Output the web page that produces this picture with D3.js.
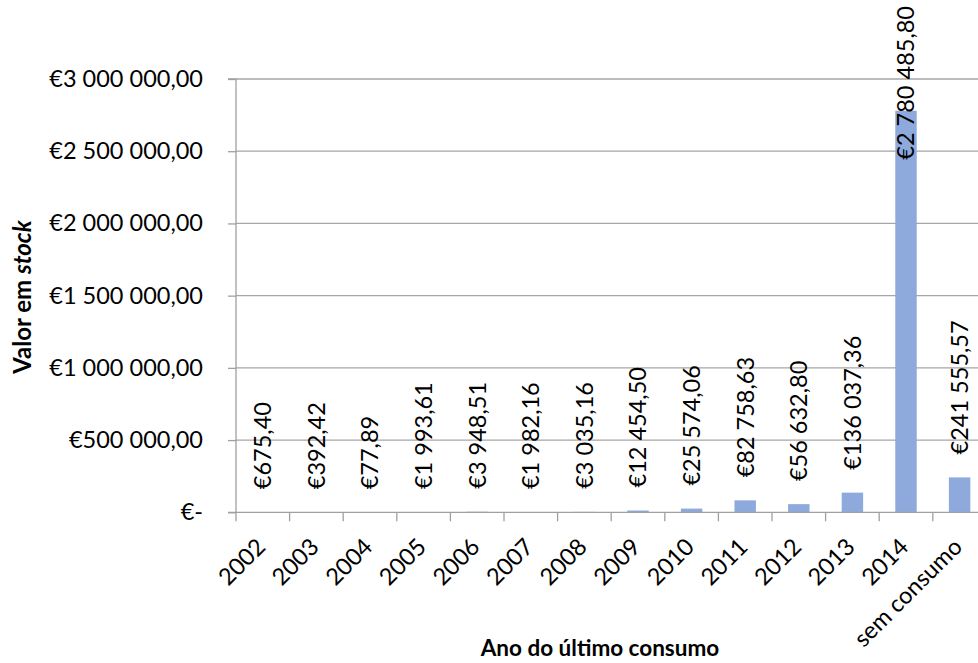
<!DOCTYPE html>
<html>
<head>
<meta charset="utf-8">
<script src="https://cdn.jsdelivr.net/npm/d3@7"></script>
<style>
  html, body { margin: 0; padding: 0; background: #fff; }
  svg { display: block; font-family: Lato, "Open Sans", sans-serif; }
</style>
</head>
<body>
<svg id="chart" width="978" height="663"></svg>
<script>
// Stock value by year of last consumption
const categories = ["2002", "2003", "2004", "2005", "2006", "2007", "2008",
                    "2009", "2010", "2011", "2012", "2013", "2014", "sem consumo"];
const values = [675.40, 392.42, 77.89, 1993.61, 3948.51, 1982.16, 3035.16,
                12454.50, 25574.06, 82758.63, 56632.80, 136037.36, 2780485.80, 241555.57];
const yTicks = [0, 500000, 1000000, 1500000, 2000000, 2500000, 3000000];

const svg = d3.select("#chart");
const margin = { left: 236, top: 79, bottom: 151 };
const plotW = 750.4, plotH = 433.3;
const fontSize = 23.5;

// Portuguese-style currency: "€1 234,56", zero shown as "€-"
const nf = d3.formatLocale({ decimal: ",", thousands: "\u00a0", grouping: [3], currency: ["€", ""] });
const fmtMoney = v => v === 0 ? "€-" : nf.format("$,.2f")(v).replace(/\u00a0/g, " ");

const x = d3.scaleBand().domain(categories).range([margin.left, margin.left + plotW])
  .paddingInner(0.6).paddingOuter(0.3);
const xTickScale = d3.scaleBand().domain(categories).range([margin.left, margin.left + plotW]);
const y = d3.scaleLinear().domain([0, 3000000]).range([margin.top + plotH, margin.top]);

const gridColor = "#a6a6a6", axisColor = "#a0a0a0";

// Horizontal gridlines
svg.append("g").selectAll("line").data(yTicks.slice(1)).join("line")
  .attr("x1", margin.left).attr("x2", margin.left + plotW)
  .attr("y1", d => y(d)).attr("y2", d => y(d))
  .attr("stroke", gridColor).attr("stroke-width", 1.3);

// Bars
svg.append("g").selectAll("rect").data(values).join("rect")
  .attr("x", (d, i) => x(categories[i]))
  .attr("width", x.bandwidth())
  .attr("y", d => y(d))
  .attr("height", d => y(0) - y(d))
  .attr("fill", "#8eaadc");

// Y axis
const yAxis = d3.axisLeft(y).tickValues(yTicks).tickSize(8).tickPadding(25).tickFormat(fmtMoney);
const gy = svg.append("g").attr("transform", `translate(${margin.left},0)`).call(yAxis);
gy.select(".domain").attr("stroke", axisColor).attr("stroke-width", 1.3)
  .attr("d", `M-8,${y(0)}H0V${y(3000000)}H-8`);
gy.selectAll(".tick line").attr("stroke", axisColor).attr("stroke-width", 1.3);
gy.selectAll(".tick text").attr("font-size", fontSize).attr("fill", "#000")
  .attr("font-family", "Lato, sans-serif");

// X axis with ticks on category boundaries
const gx = svg.append("g").attr("transform", `translate(0,${y(0)})`);
gx.append("line").attr("x1", margin.left).attr("x2", margin.left + plotW)
  .attr("stroke", axisColor).attr("stroke-width", 1.3);
gx.selectAll("line.tk").data(categories).join("line").attr("class", "tk")
  .attr("x1", d => xTickScale(d)).attr("x2", d => xTickScale(d))
  .attr("y1", 0).attr("y2", 9)
  .attr("stroke", axisColor).attr("stroke-width", 1.3);
gx.selectAll("text").data(categories).join("text")
  .attr("transform", d => `translate(${xTickScale(d) + xTickScale.bandwidth() / 2 + 4},36) rotate(-45)`)
  .attr("text-anchor", "end")
  .attr("font-size", fontSize)
  .text(d => d);

// Value labels, rotated, placed just above each bar (kept inside the chart)
const labels = svg.append("g").selectAll("text").data(values).join("text")
  .attr("text-anchor", "start")
  .attr("font-size", fontSize)
  .attr("dy", "0.36em")
  .text(d => fmtMoney(d));
labels.each(function (d, i) {
  const len = this.getComputedTextLength();
  let start = y(d) - 23;
  if (start - len < 6) start = 6 + len;
  const cx = x(categories[i]) + x.bandwidth() / 2;
  d3.select(this).attr("transform", `translate(${cx},${start}) rotate(-90)`);
});

// Axis titles
svg.append("text")
  .attr("x", 600).attr("y", 656)
  .attr("text-anchor", "middle")
  .attr("font-size", 22.5).attr("font-weight", "bold")
  .text("Ano do último consumo");

const yt = svg.append("text")
  .attr("transform", "translate(31,297) rotate(-90)")
  .attr("text-anchor", "middle")
  .attr("font-size", 24).attr("font-weight", "bold");
yt.append("tspan").text("Valor em ");
yt.append("tspan").attr("font-style", "italic").text("stock");
</script>
</body>
</html>
